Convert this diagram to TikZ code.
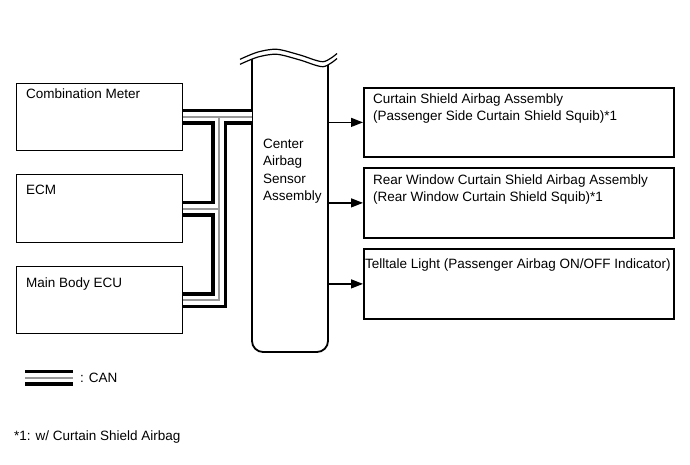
\documentclass[tikz,border=0pt]{standalone}
\usepackage{fontspec}
\setmainfont{Liberation Sans}
\usetikzlibrary{arrows.meta}
\newcommand\cannet[1]{%
  \draw[#1] (cm.east) -- (cm.east -| cas.west);
  \draw[#1] (cm.east -| jx) -- (mb.east -| jx) -- (mb.east);
  \draw[#1] (ecm.east) -- (ecm.east -| jx);
  \draw[#1] (lg1) -- (lg2);
}
\begin{document}
\begin{tikzpicture}[x=1pt,y=-1pt,
  lbox/.style={draw, line width=1pt, inner sep=0pt, minimum width=166pt, anchor=north west},
  rbox/.style={draw, line width=1.8pt, inner sep=0pt, minimum width=310pt, anchor=north west},
  txt/.style={font=\fontsize{13.5}{17.5}\selectfont, inner sep=0pt, anchor=north west, align=left},
  arr/.style={line width=1.3pt, -{Triangle[length=12pt,width=9pt]}},
  canA/.style={line width=16pt, black},
  canB/.style={line width=9pt, white},
  canC/.style={line width=2pt, black!40},
  wave/.style={line width=1.2pt},
]
\useasboundingbox (0,0) rectangle (690,465);

% left boxes
\node[lbox, minimum height=67pt] (cm) at (16,83) {};
\node[lbox, minimum height=68pt] (ecm) at (16,174) {};
\node[lbox, minimum height=67pt] (mb) at (16,266) {};
\node[txt] (cmT) at (26,85.75) {\strut Combination Meter};
\node[txt] (ecmT) at (26,181.75) {\strut ECM};
\node[txt] (mbT) at (26,274.75) {\strut Main Body ECU};

% center box
\node[inner sep=0pt, minimum width=76pt, minimum height=300pt, anchor=north west] (cas) at (252,52) {};
\draw[line width=1.8pt, rounded corners=11pt] (252,45) -- (252,352) -- (328,352) -- (328,45);
\fill[white] plot[smooth] coordinates {(238,65) (258,57) (277,54.3) (300,60) (323,66.7) (339,57)} -- (339,35) -- (238,35) -- cycle;
\draw[wave] plot[smooth] coordinates {(240,59.3) (258,52) (277,49.3) (300,55) (323,61.7) (337,53.5)};
\draw[wave] plot[smooth] coordinates {(240,64.3) (258,57) (277,54.3) (300,60) (323,66.7) (337,58.5)};
\node[txt] (casT) at (263,135.75) {\strut Center\\Airbag\\Sensor\\Assembly};

% right boxes
\node[rbox, minimum height=69pt] (r1) at (363,87) {};
\node[rbox, minimum height=70pt] (r2) at (363,167) {};
\node[rbox, minimum height=70pt] (r3) at (363,248) {};
\node[txt] (r1T) at (373,90.75) {\strut Curtain Shield Airbag Assembly\\(Passenger Side Curtain Shield Squib)*1};
\node[txt] (r2T) at (373,171.75) {\strut Rear Window Curtain Shield Airbag Assembly\\(Rear Window Curtain Shield Squib)*1};
\node[txt] (r3T) at (365,255.75) {\strut Telltale Light (Passenger Airbag ON/OFF Indicator)};

\draw[arr] (cas.east |- r1.west) -- (r1.west);
\draw[arr] (cas.east |- r2.west) -- (r2.west);
\draw[arr] (cas.east |- r3.west) -- (r3.west);

% CAN network
\coordinate (jx) at (219,0);
\coordinate (lg1) at (25,377.5);
\coordinate (lg2) at (73,377.5);
\cannet{canA}
\cannet{canB}
\cannet{canC}

\node[txt, anchor=west] (canL) at (80,378) {: CAN};
\node[txt, anchor=west] (fn) at (14,437) {*1: w/ Curtain Shield Airbag};
\end{tikzpicture}
\end{document}
